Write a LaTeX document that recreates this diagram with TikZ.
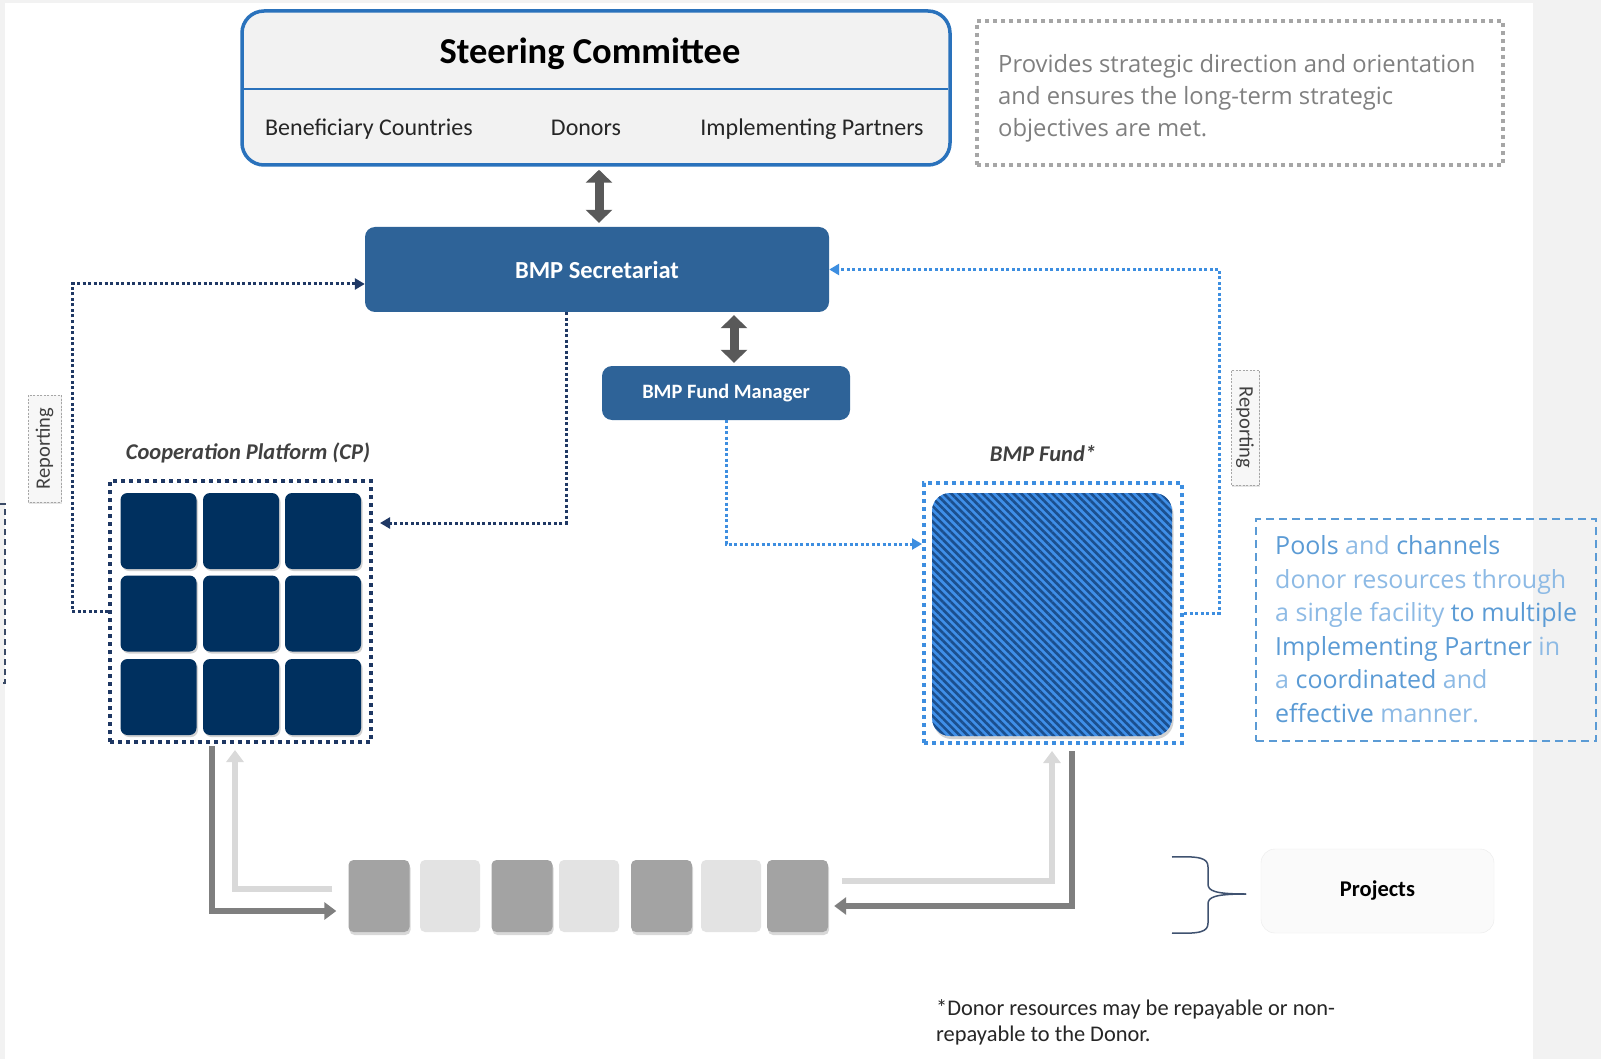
\documentclass[tikz,border=0pt]{standalone}
\usepackage{fontspec}
\setmainfont{Carlito}
\newfontfamily\osans{Open Sans}
\usetikzlibrary{arrows.meta,shadows,patterns.meta}

\definecolor{scblue}{HTML}{2A72BC}
\definecolor{scfill}{HTML}{F2F2F2}
\definecolor{secblue}{HTML}{2E6398}
\definecolor{navy}{HTML}{00305F}
\definecolor{navyline}{HTML}{1F3864}
\definecolor{ltblue}{HTML}{3D8EE0}
\definecolor{fundblue}{HTML}{3F8FE8}
\definecolor{fundstripe}{HTML}{1B4F8E}
\definecolor{txtblue}{HTML}{5B9BD5}
\definecolor{txtblueL}{HTML}{8DBAE5}
\definecolor{darkarr}{HTML}{595959}
\definecolor{gdark}{HTML}{7F7F7F}
\definecolor{glight}{HTML}{D9D9D9}
\definecolor{pdark}{HTML}{A3A3A3}
\definecolor{plight}{HTML}{E3E3E3}
\definecolor{bracecol}{HTML}{3F5270}
\definecolor{descgray}{HTML}{808080}
\definecolor{boxgray}{HTML}{A6A6A6}
\definecolor{stripbg}{HTML}{F2F2F2}
\definecolor{fragcol}{HTML}{3A4A66}
\definecolor{labgray}{HTML}{404040}

\newcommand{\hv}[1]{{\color{txtblue}#1}}

\begin{document}
\begin{tikzpicture}[x=1pt,y=-1pt,
  scbox/.style={draw=scblue, line width=3.5pt, fill=scfill, rounded corners=22pt, minimum width=708pt, minimum height=154pt},
  subtxt/.style={font=\fontsize{24}{28}\selectfont, text=black!85},
  bluebtn/.style={fill=secblue, rounded corners=10pt, text=white},
  dblarr/.style={draw=darkarr, line width=9pt, {Triangle[width=26pt,length=13pt]}-{Triangle[width=26pt,length=13pt]}},
  navydots/.style={draw=navyline, line width=3pt, dash pattern=on 3pt off 2.5pt, -{Triangle[width=11pt,length=10pt]}},
  bluedots/.style={draw=ltblue, line width=3pt, dash pattern=on 3pt off 2.5pt, -{Triangle[width=11pt,length=10pt]}},
  cpframe/.style={draw=navyline, line width=4pt, dash pattern=on 4pt off 4pt, minimum width=261pt, minimum height=261pt},
  fundframe/.style={draw=ltblue, line width=4pt, dash pattern=on 4pt off 4pt, minimum width=258pt, minimum height=260pt},
  cell/.style={fill=navy, rounded corners=7pt, minimum size=76pt, drop shadow={opacity=0.35, shadow xshift=1.5pt, shadow yshift=-2pt}},
  fundsq/.style={fill=fundblue, rounded corners=18pt, minimum width=240pt, minimum height=243pt,
     drop shadow={opacity=0.35, shadow xshift=1.5pt, shadow yshift=-3pt},
     postaction={pattern={Lines[angle=-45,distance=5.5pt,line width=2.6pt]}, pattern color=fundstripe}},
  boldlab/.style={font=\bfseries\itshape\fontsize{22.5}{27}\selectfont, text=labgray},
  reportbox/.style={draw=boxgray, line width=1pt, dash pattern=on 2pt off 1.5pt, fill=black!3, text=labgray,
     font=\fontsize{20.5}{24}\selectfont, inner sep=2pt, drop shadow={opacity=0.2, shadow xshift=1pt, shadow yshift=-1.5pt}},
  pdk/.style={fill=pdark, rounded corners=5pt, minimum width=61pt, minimum height=72pt, drop shadow={opacity=0.3, shadow xshift=1pt, shadow yshift=-3pt}},
  plt/.style={fill=plight, rounded corners=5pt, minimum width=60pt, minimum height=72pt},
  garrow/.style={line width=5.5pt, -{Triangle[width=17pt,length=12pt]}},
  descbox/.style={draw=boxgray, line width=4pt, dash pattern=on 4pt off 4pt, minimum width=526pt, minimum height=144pt},
  bluebox/.style={draw=txtblue, line width=2pt, dash pattern=on 8pt off 5pt, minimum width=340pt, minimum height=222pt}
]
\useasboundingbox (0,0) rectangle (1601,1059);
\fill[white] (0,0) rectangle (1601,1059);
\fill[stripbg] (1533,0) rectangle (1601,1059);
\fill[stripbg] (0,0) rectangle (5,1059);
\fill[stripbg] (0,0) rectangle (1601,3);
\draw[fragcol, line width=1.2pt, dash pattern=on 6pt off 4pt] (0,504) -- (5,504) -- (5,683) -- (0,683);

% Steering committee
\node[scbox] (sc) at (596,88) {};
\draw[scblue, line width=2pt] (244,89) -- (948,89);
\node[font=\bfseries\fontsize{36.5}{42}\selectfont] (sctitle) at (590,54) {Steering Committee};
\node[subtxt] (bc) at (369,129) {Beneficiary Countries};
\node[subtxt] (don) at (586,128) {Donors};
\node[subtxt] (ip) at (812,129) {Implementing Partners};

% description box
\node[descbox] (descbox) at (1240,93) {};
\node[anchor=north west, align=left, inner sep=0pt, text=descgray, font=\osans\fontsize{23.8}{32}\selectfont] (desc) at (998,54)
  {Provides strategic direction and orientation\\and ensures the long-term strategic\\objectives are met.};

% secretariat and fund manager
\node[bluebtn, minimum width=464pt, minimum height=85pt, font=\bfseries\fontsize{24.5}{28}\selectfont] (sec) at (597,269.5) {BMP Secretariat};
\node[bluebtn, minimum width=248pt, minimum height=54pt, font=\bfseries\fontsize{20.4}{24}\selectfont] (fm) at (726,393) {BMP Fund Manager};
\draw[dblarr, shorten <=3pt, shorten >=4pt] ([xshift=2pt]sc.south -| sec.north) -- ([xshift=2pt]sec.north);
\draw[dblarr, shorten <=3pt, shorten >=3pt] ([xshift=8pt]fm.north |- sec.south) -- ([xshift=8pt]fm.north);

% cooperation platform
\node[boldlab] (cplab) at (248,453) {Cooperation Platform (CP)};
\node[cpframe] (cpf) at (240.5,611.5) {};
\foreach \i/\x in {1/158.5,2/241,3/323}
  \foreach \j/\y in {1/531,2/613.5,3/697}
    \node[cell] (c\i\j) at (\x,\y) {};

% fund
\node[boldlab] (fundlab) at (1043,454) {BMP Fund*};
\node[fundframe] (fundf) at (1053,613) {};
\node[fundsq] (fund) at (1052,614.5) {};

% reporting labels
\node[reportbox, rotate=90, minimum width=107pt, minimum height=33pt] (repL) at (44.5,448.5) {Reporting};
\node[reportbox, rotate=-90, minimum width=115pt, minimum height=28pt] (repR) at (1245,427.5) {Reporting};

% dotted connectors
\draw[navydots] (cpf.west) -- ++(-36,0) |- ([yshift=-14.5pt]sec.west);
\draw[navydots, shorten >=7pt] ([xshift=-31pt]sec.south) |- ([yshift=88.5pt]cpf.east);
\draw[bluedots] (fm.south) |- ([yshift=69pt]fundf.west);
\draw[bluedots] (fundf.east) -- ++(35,0) |- (sec.east);

% blue text box
\node[bluebox] (poolsbox) at (1426,630) {};
\node[anchor=north west, align=left, inner sep=0pt, text=txtblueL, font=\osans\fontsize{25}{33.5}\selectfont] (pools) at (1275,535.5)
  {\hv{Pools} and \hv{channels}\\donor resources through\\a single facility \hv{to multiple}\\\hv{Implementing Partner} in\\a \hv{coordinated} and\\\hv{effective} manner.};

% projects row
\foreach \n/\x/\s in {1/379/pdk,2/450/plt,3/522/pdk,4/589/plt,5/661.5/pdk,6/731/plt,7/797.5/pdk}
  \node[\s] (p\n) at (\x,896) {};

% bottom arrows
\draw[garrow, draw=glight] ([xshift=-16pt,yshift=7pt]p1.west) -| ([xshift=-5.5pt,yshift=-6pt]cpf.south);
\draw[garrow, draw=gdark] ([xshift=-28.5pt,yshift=-2pt]cpf.south) |- ([xshift=-12pt,yshift=-15pt]p1.west);
\draw[garrow, draw=glight] ([xshift=14pt,yshift=15pt]p7.east) -| ([xshift=-1pt,yshift=-6pt]fundf.south);
\draw[garrow, draw=gdark] ([xshift=19pt,yshift=-6pt]fundf.south) |- ([xshift=6pt,yshift=-10pt]p7.east);

% brace and projects
\draw[bracecol, line width=1.5pt] (1172,857) .. controls (1200,856) and (1208,858) .. (1208,867) -- (1208,884) .. controls (1208,891) and (1215,894) .. (1246,894);
\draw[bracecol, line width=1.5pt] (1172,933) .. controls (1200,934) and (1208,932) .. (1208,923) -- (1208,904) .. controls (1208,897) and (1215,894) .. (1246,894);
\node[fill=black!2, draw=black!8, rounded corners=14pt, minimum width=233pt, minimum height=84pt, font=\bfseries\fontsize{22.5}{26}\selectfont] (proj) at (1377.5,891) {Projects};

% footnote
\node[anchor=north west, align=left, inner sep=0pt, text=black!85, font=\fontsize{22.4}{26.5}\selectfont] (note) at (936,999)
  {*Donor resources may be repayable or non-\\repayable to the Donor.};
\end{tikzpicture}
\end{document}
